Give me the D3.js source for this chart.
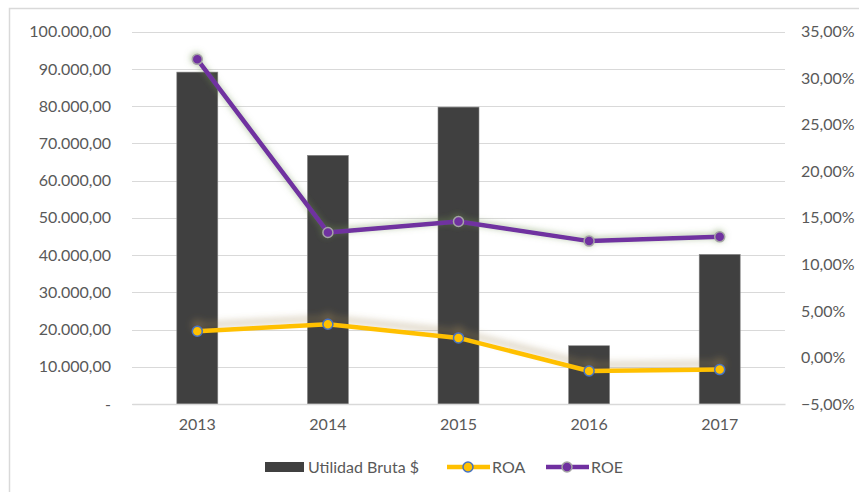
<!DOCTYPE html>
<html>
<head>
<meta charset="utf-8">
<script src="https://cdnjs.cloudflare.com/ajax/libs/d3/7.8.5/d3.min.js"></script>
<style>
  html, body { margin: 0; padding: 0; background: #ffffff; }
  svg { display: block; font-family: Lato, "Open Sans", sans-serif; }
</style>
</head>
<body>
<svg id="chart" width="859" height="492"></svg>
<script>
const years = ["2013", "2014", "2015", "2016", "2017"];
const utilidadBruta = [89150, 66800, 79750, 15650, 40200];
const roa = [0.0282, 0.0357, 0.0210, -0.0145, -0.0130];
const roe = [0.3203, 0.1343, 0.1461, 0.1250, 0.1296];
const leftTicks = [0, 10000, 20000, 30000, 40000, 50000, 60000, 70000, 80000, 90000, 100000];
const rightTicks = [-0.05, 0, 0.05, 0.10, 0.15, 0.20, 0.25, 0.30, 0.35];
const seriesNames = ["Utilidad Bruta $", "ROA", "ROE"];

const colBar = "#404040", colROA = "#FFC000", colROE = "#7030A0";
const textCol = "#595959", gridCol = "#d9d9d9";

const locale = d3.formatLocale({decimal: ",", thousands: ".", grouping: [3], currency: ["$", ""]});
const fmtLeft = v => v === 0 ? "-" : locale.format(",.2f")(v);
const fmtRight = locale.format(".2%");

const svg = d3.select("#chart");
const defs = svg.append("defs");

function shadowFilter(id, color, opacity, dx, dy, blur) {
  const f = defs.append("filter").attr("id", id)
    .attr("x", "-20%").attr("y", "-60%").attr("width", "140%").attr("height", "220%");
  f.append("feGaussianBlur").attr("in", "SourceAlpha").attr("stdDeviation", blur).attr("result", "b");
  f.append("feOffset").attr("in", "b").attr("dx", dx).attr("dy", dy).attr("result", "o");
  f.append("feFlood").attr("flood-color", color).attr("flood-opacity", opacity);
  f.append("feComposite").attr("in2", "o").attr("operator", "in").attr("result", "s");
  const m = f.append("feMerge");
  m.append("feMergeNode").attr("in", "s");
  m.append("feMergeNode").attr("in", "SourceGraphic");
}
shadowFilter("glowROE", "#6f8f4f", 0.55, -1, -1, 3);
shadowFilter("glowROA", "#9c8452", 0.45, 0, -6, 3.5);

// outer border
svg.append("rect").attr("x", 9.5).attr("y", 8.5).attr("width", 900).attr("height", 600)
  .attr("fill", "none").attr("stroke", gridCol).attr("stroke-width", 1.5);

const plotL = 132, plotR = 785, plotT = 31.7, plotB = 404;

const x = d3.scaleBand().domain(years).range([plotL, plotR]).paddingInner(0.686).paddingOuter(0.343);
const yL = d3.scaleLinear().domain([0, 100000]).range([plotB, plotT]);
const yR = d3.scaleLinear().domain([-0.05, 0.35]).range([plotB, plotT]);
const cx = d => x(d) + x.bandwidth() / 2;

// gridlines
svg.append("g").selectAll("line").data(leftTicks).join("line")
  .attr("x1", plotL).attr("x2", plotR)
  .attr("y1", d => Math.round(yL(d)) + 0.5).attr("y2", d => Math.round(yL(d)) + 0.5)
  .attr("stroke", gridCol).attr("stroke-width", 1.2);

// left axis
const axL = svg.append("g").attr("transform", `translate(${plotL - 21},0)`)
  .call(d3.axisLeft(yL).tickValues(leftTicks).tickFormat(fmtLeft).tickSize(0).tickPadding(0));
axL.select(".domain").remove();
axL.selectAll("text").attr("fill", textCol).style("font-size", "16px").style("font-family", "Lato, sans-serif");

// right axis
const axR = svg.append("g").attr("transform", `translate(${plotR + 16},0)`)
  .call(d3.axisRight(yR).tickValues(rightTicks).tickFormat(fmtRight).tickSize(0).tickPadding(0));
axR.select(".domain").remove();
axR.selectAll("text").attr("fill", textCol).style("font-size", "16px").style("font-family", "Lato, sans-serif");

// bars
svg.append("g").selectAll("rect").data(years).join("rect")
  .attr("x", d => x(d)).attr("width", x.bandwidth())
  .attr("y", (d, i) => yL(utilidadBruta[i]))
  .attr("height", (d, i) => yL(0) - yL(utilidadBruta[i]))
  .attr("fill", colBar).attr("stroke", "#8a8a8a").attr("stroke-width", 0.6);

// x axis
const axX = svg.append("g").attr("transform", `translate(0,${plotB})`)
  .call(d3.axisBottom(x).tickSize(0).tickPadding(15));
axX.select(".domain").attr("stroke", gridCol).attr("stroke-width", 1.5);
axX.selectAll("text").attr("fill", textCol).style("font-size", "16px").style("font-family", "Lato, sans-serif");

// lines
const lineGen = d3.line().x((d, i) => cx(years[i]));
function drawSeries(vals, color, stroke, filterId) {
  const g = svg.append("g").attr("filter", `url(#${filterId})`);
  g.append("path").datum(vals)
    .attr("d", lineGen.y(d => yR(d)))
    .attr("fill", "none").attr("stroke", color).attr("stroke-width", 4.5)
    .attr("stroke-linejoin", "round").attr("stroke-linecap", "round");
  g.selectAll("circle").data(vals).join("circle")
    .attr("cx", (d, i) => cx(years[i])).attr("cy", d => yR(d)).attr("r", 5)
    .attr("fill", color).attr("stroke", stroke).attr("stroke-width", 1.5);
}
drawSeries(roa, colROA, "#4472C4", "glowROA");
drawSeries(roe, colROE, "#a5a5a5", "glowROE");

// legend
const leg = svg.append("g").style("font-size", "16px").attr("fill", textCol);
const ly = 467;
leg.append("rect").attr("x", 265).attr("y", ly - 5).attr("width", 39).attr("height", 10).attr("fill", colBar);
leg.append("text").attr("x", 308).attr("y", ly).attr("dy", "0.35em").text(seriesNames[0]);
leg.append("line").attr("x1", 447).attr("x2", 490).attr("y1", ly).attr("y2", ly)
  .attr("stroke", colROA).attr("stroke-width", 4.5);
leg.append("circle").attr("cx", 468).attr("cy", ly).attr("r", 5)
  .attr("fill", colROA).attr("stroke", "#4472C4").attr("stroke-width", 1.5);
leg.append("text").attr("x", 492).attr("y", ly).attr("dy", "0.35em").text(seriesNames[1]);
leg.append("line").attr("x1", 546).attr("x2", 589).attr("y1", ly).attr("y2", ly)
  .attr("stroke", colROE).attr("stroke-width", 4.5);
leg.append("circle").attr("cx", 567).attr("cy", ly).attr("r", 5)
  .attr("fill", colROE).attr("stroke", "#a5a5a5").attr("stroke-width", 1.5);
leg.append("text").attr("x", 591).attr("y", ly).attr("dy", "0.35em").text(seriesNames[2]);
</script>
</body>
</html>
